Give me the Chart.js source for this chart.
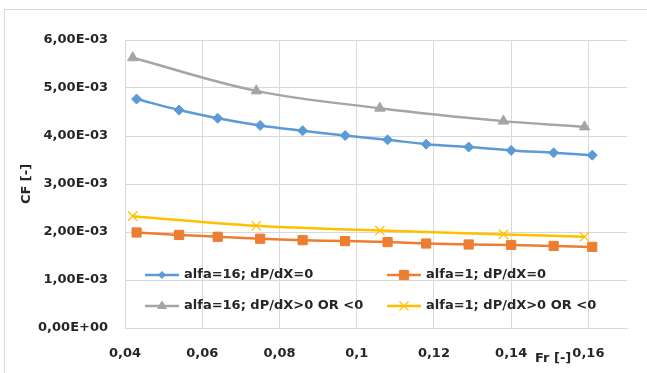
<!DOCTYPE html>
<html lang="en">
<head>
<meta charset="UTF-8" />
<title>CF vs Fr</title>
<script src="https://cdn.jsdelivr.net/npm/chart.js"></script>
<style>
  body { margin: 0; background: #fff; width: 647px; height: 373px; overflow: hidden; position: relative; }
  .frame { position: absolute; left: 4px; top: 9px; width: 700px; height: 400px; border: 1px solid #d9d9d9; }
  #chart { position: absolute; left: 0; top: 0; }
</style>
</head>
<body>
<div class="frame"></div>
<canvas id="chart" width="647" height="373"></canvas>
<script>
  // Fr values for the dP/dX=0 runs
  const frZero = [0.043, 0.054, 0.064, 0.075, 0.086, 0.097, 0.108, 0.118, 0.129, 0.140, 0.151, 0.161];
  const cfAlfa16Zero = [4.77e-3, 4.54e-3, 4.37e-3, 4.22e-3, 4.11e-3, 4.01e-3, 3.92e-3, 3.83e-3, 3.77e-3, 3.70e-3, 3.65e-3, 3.60e-3];
  const cfAlfa1Zero = [1.99e-3, 1.94e-3, 1.90e-3, 1.86e-3, 1.83e-3, 1.81e-3, 1.79e-3, 1.76e-3, 1.74e-3, 1.73e-3, 1.71e-3, 1.69e-3];

  // Fr values for the dP/dX>0 OR <0 runs
  const frGrad = [0.042, 0.074, 0.106, 0.138, 0.159];
  const cfAlfa16Grad = [5.63e-3, 4.94e-3, 4.58e-3, 4.31e-3, 4.19e-3];
  const cfAlfa1Grad = [2.33e-3, 2.13e-3, 2.03e-3, 1.95e-3, 1.90e-3];

  const seriesLabels = ['alfa=16; dP/dX=0', 'alfa=1; dP/dX=0', 'alfa=16; dP/dX>0 OR <0', 'alfa=1; dP/dX>0 OR <0'];
  const xTitle = 'Fr [-]';
  const yTitle = 'CF [-]';

  const textColor = '#262626';
  const gridColor = '#d9d9d9';
  const fontFamily = '"DejaVu Sans", sans-serif';

  function toPoints(xs, ys) {
    return xs.map((x, i) => ({ x: x, y: ys[i] }));
  }

  function sciLabel(v) {
    const parts = Number(v).toExponential(2).split('e');
    const exp = parseInt(parts[1], 10);
    return parts[0].replace('.', ',') + 'E' + (exp < 0 ? '-' : '+') + String(Math.abs(exp)).padStart(2, '0');
  }

  function series(label, data, color, style, radius, legendRadius, extra) {
    return Object.assign({
      label: label,
      data: data,
      borderColor: color,
      backgroundColor: color,
      pointBackgroundColor: color,
      pointBorderColor: color,
      borderWidth: 2.5,
      pointStyle: style,
      pointRadius: radius,
      pointHoverRadius: radius,
      pointBorderWidth: 1,
      legendRadius: legendRadius,
      tension: 0.35,
      fill: false,
    }, extra || {});
  }

  // legend drawn inside the plot area, two columns
  const insideLegend = {
    id: 'insideLegend',
    afterDatasetsDraw(chart) {
      const ctx = chart.ctx;
      const cols = [145, 387];
      const rows = [275, 306];
      ctx.save();
      chart.data.datasets.forEach((ds, i) => {
        const x0 = cols[i % 2];
        const y = rows[Math.floor(i / 2)];
        ctx.strokeStyle = ds.borderColor;
        ctx.lineWidth = ds.borderWidth;
        ctx.beginPath();
        ctx.moveTo(x0, y);
        ctx.lineTo(x0 + 34, y);
        ctx.stroke();
        ctx.fillStyle = ds.pointBackgroundColor;
        ctx.strokeStyle = ds.pointBorderColor;
        ctx.lineWidth = ds.pointBorderWidth;
        if (Chart.helpers && Chart.helpers.drawPoint) {
          Chart.helpers.drawPoint(ctx, {
            pointStyle: ds.pointStyle,
            radius: ds.legendRadius,
            rotation: 0,
            borderWidth: ds.pointBorderWidth,
          }, x0 + 17, y);
        }
        ctx.fillStyle = textColor;
        ctx.font = 'bold 13px ' + fontFamily;
        ctx.textAlign = 'left';
        ctx.textBaseline = 'middle';
        ctx.fillText(ds.label, x0 + 39, y);
      });
      // x axis title sits beside the last tick labels
      ctx.fillText(xTitle, 535, 359);
      ctx.restore();
    },
  };

  Chart.defaults.font.family = fontFamily;
  Chart.defaults.font.size = 13;
  Chart.defaults.font.weight = 'bold';
  Chart.defaults.color = textColor;

  new Chart(document.getElementById('chart'), {
    type: 'line',
    data: {
      datasets: [
        series(seriesLabels[0], toPoints(frZero, cfAlfa16Zero), '#5b9bd5', 'rectRot', 5, 3.5),
        series(seriesLabels[1], toPoints(frZero, cfAlfa1Zero), '#ed7d31', 'rect', 6.5, 6.5),
        series(seriesLabels[2], toPoints(frGrad, cfAlfa16Grad), '#a5a5a5', 'triangle', 6, 5),
        series(seriesLabels[3], toPoints(frGrad, cfAlfa1Grad), '#ffc000', 'crossRot', 6.5, 6.5, { pointBorderWidth: 1.3 }),
      ],
    },
    options: {
      responsive: false,
      animation: false,
      layout: { padding: { top: 40, right: 20, bottom: 0, left: 0 } },
      plugins: {
        legend: { display: false },
        tooltip: { enabled: false },
      },
      scales: {
        x: {
          type: 'linear',
          min: 0.04,
          max: 0.17,
          grid: { color: gridColor, drawTicks: false },
          border: { color: gridColor },
          ticks: {
            stepSize: 0.02,
            includeBounds: false,
            padding: 18,
            maxRotation: 0,
            callback: (v) => String(Number(v.toFixed(2))).replace('.', ','),
          },
          afterFit: (scale) => { scale.height = 45; },
        },
        y: {
          min: 0,
          max: 0.006,
          grid: { color: gridColor, drawTicks: false },
          border: { color: gridColor },
          ticks: {
            stepSize: 0.001,
            padding: 17,
            callback: (v) => sciLabel(v),
          },
          title: {
            display: true,
            text: yTitle,
            padding: { top: 19, bottom: 0 },
          },
          afterFit: (scale) => { scale.width = 125; },
        },
      },
    },
    plugins: [insideLegend],
  });
</script>
</body>
</html>
